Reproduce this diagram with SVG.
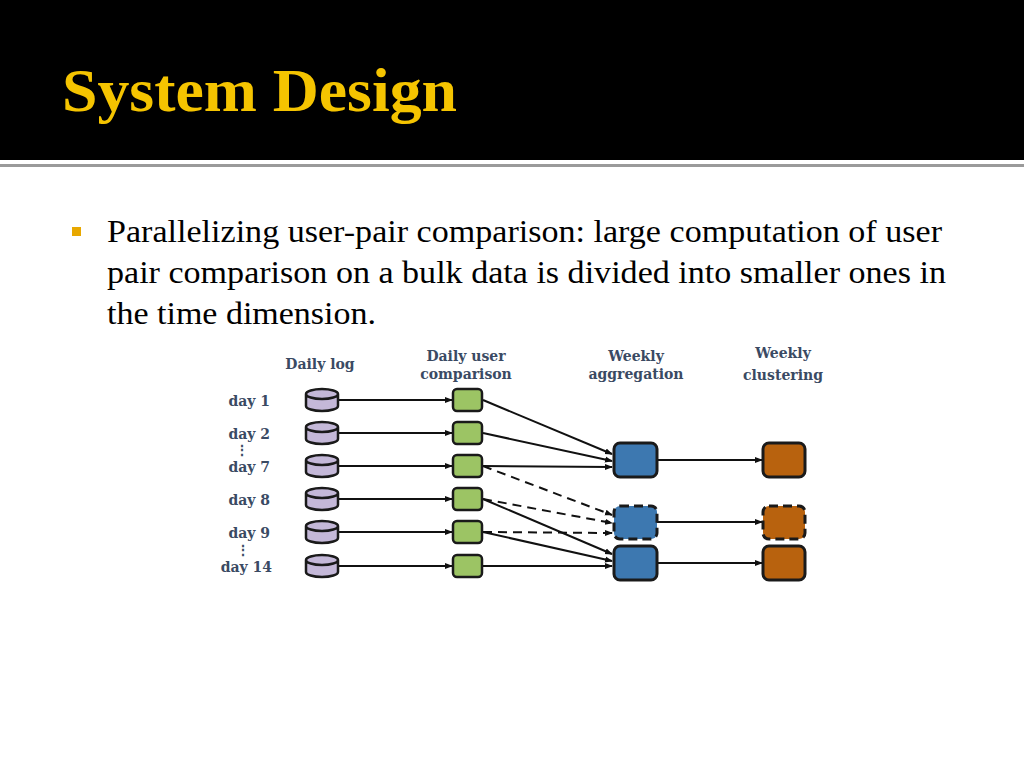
<svg xmlns="http://www.w3.org/2000/svg" width="1024" height="768" viewBox="0 0 1024 768">
<defs>
<style>
.lbl{font-family:"DejaVu Serif","Liberation Serif",serif;font-weight:bold;fill:#3a4a63;font-size:14px;text-anchor:middle}
.day{font-family:"DejaVu Serif","Liberation Serif",serif;font-weight:bold;fill:#3a4a63;font-size:14px;text-anchor:end}
.body{font-family:"Liberation Serif",serif;font-size:31px;fill:#000}
.c{stroke:#111;stroke-width:2;fill:none;marker-end:url(#a)}
.d{stroke-dasharray:9,6}
.g{fill:#9cc464;stroke:#1a1a1a;stroke-width:2.5}
.b{fill:#3d78b0;stroke:#1a1a1a;stroke-width:3}
.o{fill:#b8620e;stroke:#1a1a1a;stroke-width:3}
.cy{fill:#c4b8d8;stroke:#1a1a1a;stroke-width:2.5}
</style>
<marker id="a" markerWidth="8" markerHeight="8" refX="7" refY="4" orient="auto" markerUnits="userSpaceOnUse"><path d="M0,1 L8,4 L0,7 Z" fill="#111"/></marker>
</defs>
<rect width="1024" height="768" fill="#fff"/>
<rect width="1024" height="160" fill="#000"/>
<rect y="164" width="1024" height="3" fill="#9a9a9a"/>
<text x="62" y="111" font-family="Liberation Serif,serif" font-weight="bold" font-size="62" fill="#f5c400" textLength="395" lengthAdjust="spacingAndGlyphs">System Design</text>
<rect x="72" y="227" width="9" height="9" fill="#e8a800"/>
<text class="body" x="107" y="242" textLength="835" lengthAdjust="spacingAndGlyphs">Parallelizing user-pair comparison: large computation of user</text>
<text class="body" x="107" y="283" textLength="839" lengthAdjust="spacingAndGlyphs">pair comparison on a bulk data is divided into smaller ones in</text>
<text class="body" x="107" y="324" textLength="269" lengthAdjust="spacingAndGlyphs">the time dimension.</text>

<g id="labels">
<text class="lbl" x="320" y="369">Daily log</text>
<text class="lbl" x="466" y="361">Daily user</text>
<text class="lbl" x="466" y="379">comparison</text>
<text class="lbl" x="636" y="361">Weekly</text>
<text class="lbl" x="636" y="379">aggregation</text>
<text class="lbl" x="783" y="358">Weekly</text>
<text class="lbl" x="783" y="380">clustering</text>
<text class="day" x="270" y="406">day 1</text>
<text class="day" x="270" y="439">day 2</text>
<text class="day" x="270" y="472">day 7</text>
<text class="day" x="270" y="505">day 8</text>
<text class="day" x="270" y="538">day 9</text>
<text class="day" x="272" y="572">day 14</text>
<text class="day" x="249" y="455" font-size="12">⋮</text>
<text class="day" x="250" y="555" font-size="12">⋮</text>
</g>

<g id="connectors">
<path class="c" d="M338 400H452"/><path class="c" d="M338 433H452"/><path class="c" d="M338 466H452"/>
<path class="c" d="M338 499H452"/><path class="c" d="M338 532H452"/><path class="c" d="M338 566H452"/>
<path class="c" d="M483 400L612 454"/><path class="c" d="M483 433L612 461"/><path class="c" d="M483 466L612 467"/>
<path class="c d" d="M483 466L612 515"/><path class="c d" d="M483 499L612 523"/><path class="c d" d="M483 532L612 533"/>
<path class="c" d="M483 499L612 554"/><path class="c" d="M483 532L612 561"/><path class="c" d="M483 566L612 566"/>
<path class="c" d="M657 460H762"/><path class="c" d="M657 522H762"/><path class="c" d="M657 563H762"/>
</g>

<g id="logs">
<g id="log1"><path class="cy" d="M306 394v12a16 5 0 0 0 32 0v-12a16 5 0 0 0-32 0a16 5 0 0 0 32 0"/></g>
<g id="log2"><path class="cy" d="M306 427v12a16 5 0 0 0 32 0v-12a16 5 0 0 0-32 0a16 5 0 0 0 32 0"/></g>
<g id="log7"><path class="cy" d="M306 460v12a16 5 0 0 0 32 0v-12a16 5 0 0 0-32 0a16 5 0 0 0 32 0"/></g>
<g id="log8"><path class="cy" d="M306 493v12a16 5 0 0 0 32 0v-12a16 5 0 0 0-32 0a16 5 0 0 0 32 0"/></g>
<g id="log9"><path class="cy" d="M306 526v12a16 5 0 0 0 32 0v-12a16 5 0 0 0-32 0a16 5 0 0 0 32 0"/></g>
<g id="log14"><path class="cy" d="M306 560v12a16 5 0 0 0 32 0v-12a16 5 0 0 0-32 0a16 5 0 0 0 32 0"/></g>
</g>
<g id="cmp">
<g id="g1"><rect class="g" x="453" y="389" width="29" height="22" rx="4"/></g>
<g id="g2"><rect class="g" x="453" y="422" width="29" height="22" rx="4"/></g>
<g id="g3"><rect class="g" x="453" y="455" width="29" height="22" rx="4"/></g>
<g id="g4"><rect class="g" x="453" y="488" width="29" height="22" rx="4"/></g>
<g id="g5"><rect class="g" x="453" y="521" width="29" height="22" rx="4"/></g>
<g id="g6"><rect class="g" x="453" y="555" width="29" height="22" rx="4"/></g>
</g>
<g id="agg1"><rect class="b" x="614" y="443" width="43" height="34" rx="6"/></g>
<g id="agg2"><rect class="b" x="614" y="506" width="43" height="33" rx="6" stroke-dasharray="9,5"/></g>
<g id="agg3"><rect class="b" x="614" y="546" width="43" height="34" rx="6"/></g>
<g id="cl1"><rect class="o" x="763" y="443" width="42" height="34" rx="6"/></g>
<g id="cl2"><rect class="o" x="763" y="506" width="42" height="33" rx="6" stroke-dasharray="9,5"/></g>
<g id="cl3"><rect class="o" x="763" y="546" width="42" height="34" rx="6"/></g>
</svg>
